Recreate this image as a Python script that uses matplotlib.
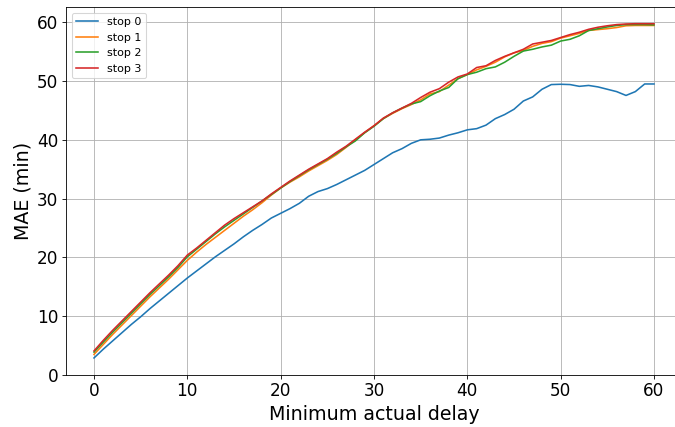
import numpy as np
import matplotlib
matplotlib.use("Agg")
import matplotlib.pyplot as plt

# Minimum actual delay (minutes)
delay = list(range(0, 61))

# Mean absolute error (minutes) per stop
stop0 = [2.9, 4.4, 5.8, 7.2, 8.6, 9.9, 11.3, 12.6, 13.9, 15.2,
         16.5, 17.7, 18.9, 20.1, 21.2, 22.3, 23.5, 24.6, 25.6, 26.7,
         27.5, 28.3, 29.2, 30.4, 31.2, 31.7, 32.4, 33.2, 34.0, 34.8,
         35.8, 36.8, 37.8, 38.5, 39.4, 40.0, 40.1, 40.3, 40.8, 41.2,
         41.7, 41.9, 42.5, 43.6, 44.3, 45.2, 46.6, 47.3, 48.6, 49.4,
         49.45, 49.4, 49.1, 49.25, 49.0, 48.6, 48.2, 47.55, 48.2, 49.5,
         49.5]
stop1 = [3.5, 5.2, 6.9, 8.5, 10.1, 11.7, 13.3, 14.8, 16.3, 17.9,
         19.5, 20.9, 22.2, 23.4, 24.6, 25.8, 27.0, 28.1, 29.3, 30.6,
         31.8, 32.8, 33.7, 34.7, 35.6, 36.5, 37.5, 38.7, 40.0, 41.2,
         42.4, 43.6, 44.5, 45.3, 46.0, 46.8, 47.8, 48.2, 49.3, 50.4,
         51.1, 51.9, 52.5, 53.2, 54.1, 54.8, 55.2, 55.9, 56.4, 56.7,
         57.3, 57.7, 58.1, 58.6, 58.75, 58.9, 59.1, 59.4, 59.45, 59.45,
         59.45]
stop2 = [3.9, 5.6, 7.3, 8.9, 10.5, 12.1, 13.7, 15.2, 16.7, 18.3,
         20.1, 21.4, 22.7, 24.0, 25.2, 26.3, 27.4, 28.5, 29.6, 30.7,
         31.8, 32.9, 33.9, 34.9, 35.8, 36.7, 37.7, 38.8, 39.8, 41.2,
         42.3, 43.6, 44.6, 45.4, 46.1, 46.5, 47.5, 48.3, 48.9, 50.4,
         51.1, 51.5, 52.1, 52.4, 53.2, 54.2, 55.1, 55.4, 55.8, 56.1,
         56.8, 57.1, 57.7, 58.6, 58.9, 59.2, 59.45, 59.6, 59.6, 59.6,
         59.55]
stop3 = [4.1, 5.9, 7.6, 9.2, 10.8, 12.4, 14.0, 15.5, 17.0, 18.6,
         20.4, 21.6, 22.9, 24.2, 25.5, 26.6, 27.6, 28.6, 29.6, 30.8,
         31.9, 33.0, 34.0, 35.0, 35.9, 36.8, 37.9, 38.9, 40.1, 41.3,
         42.4, 43.7, 44.6, 45.4, 46.2, 47.2, 48.1, 48.7, 49.8, 50.7,
         51.2, 52.3, 52.6, 53.5, 54.2, 54.8, 55.4, 56.3, 56.6, 56.9,
         57.4, 57.9, 58.3, 58.8, 59.15, 59.4, 59.6, 59.7, 59.75, 59.75,
         59.75]

series = [stop0, stop1, stop2, stop3]
labels = ["stop 0", "stop 1", "stop 2", "stop 3"]

DPI = 76
fig = plt.figure(figsize=(675 / DPI, 427 / DPI), dpi=DPI)
W, H = 675, 427
left, right, top, bottom = 66, 682, 7, 375
ax = fig.add_axes([left / W, (H - bottom) / H, (right - left) / W, (bottom - top) / H])

for vals, lab in zip(series, labels):
    ax.plot(delay, vals, label=lab)

ax.set_ylim(bottom=0)
ax.grid(True)
ax.tick_params(labelsize=16)
ax.set_xlabel("Minimum actual delay", fontsize=18)
ax.set_ylabel("MAE (min)", fontsize=18)
ax.legend(loc="upper left", fontsize=10.5)

fig.savefig("out.png", dpi=DPI)
